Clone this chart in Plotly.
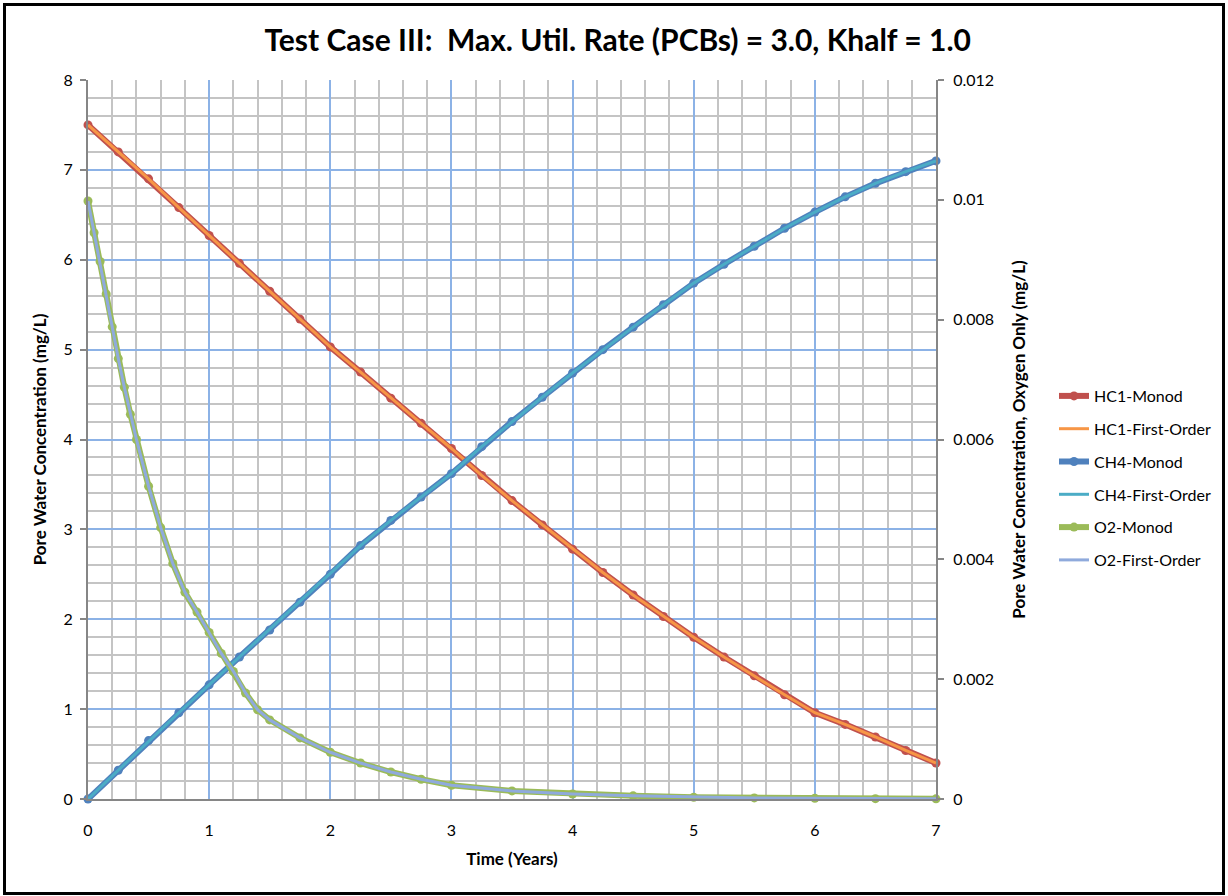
import plotly.graph_objects as go

# ---------------- data ----------------
t_main = [0, 0.25, 0.5, 0.75, 1.0, 1.25, 1.5, 1.75, 2.0, 2.25, 2.5, 2.75, 3.0, 3.25,
          3.5, 3.75, 4.0, 4.25, 4.5, 4.75, 5.0, 5.25, 5.5, 5.75, 6.0, 6.25, 6.5, 6.75, 7.0]

hc1_monod = [7.50, 7.20, 6.90, 6.58, 6.27, 5.96, 5.65, 5.34, 5.03, 4.75, 4.46, 4.18, 3.90, 3.60,
             3.32, 3.05, 2.78, 2.52, 2.27, 2.03, 1.80, 1.58, 1.37, 1.16, 0.96, 0.83, 0.69, 0.54, 0.40]
hc1_first = [7.50, 7.20, 6.90, 6.58, 6.27, 5.96, 5.65, 5.34, 5.03, 4.75, 4.46, 4.18, 3.90, 3.60,
             3.32, 3.05, 2.78, 2.52, 2.27, 2.03, 1.80, 1.58, 1.37, 1.16, 0.96, 0.83, 0.69, 0.54, 0.40]

ch4_monod = [0.00, 0.32, 0.65, 0.96, 1.27, 1.58, 1.88, 2.19, 2.50, 2.82, 3.10, 3.36, 3.62, 3.92,
             4.20, 4.47, 4.74, 5.00, 5.25, 5.50, 5.74, 5.95, 6.15, 6.35, 6.53, 6.70, 6.85, 6.98, 7.10]
ch4_first = [0.00, 0.32, 0.65, 0.96, 1.27, 1.58, 1.88, 2.19, 2.50, 2.82, 3.10, 3.36, 3.62, 3.92,
             4.20, 4.47, 4.74, 5.00, 5.25, 5.50, 5.74, 5.95, 6.15, 6.35, 6.53, 6.70, 6.85, 6.98, 7.10]

t_o2 = [0, 0.05, 0.1, 0.15, 0.2, 0.25, 0.3, 0.35, 0.4, 0.5, 0.6, 0.7, 0.8, 0.9, 1.0, 1.1, 1.2,
        1.3, 1.4, 1.5, 1.75, 2.0, 2.25, 2.5, 2.75, 3.0, 3.5, 4.0, 4.5, 5.0, 5.5, 6.0, 6.5, 7.0]
o2_monod = [0.00998, 0.00945, 0.00897, 0.00843, 0.00788, 0.00735, 0.00687, 0.00642, 0.00600,
            0.00522, 0.00453, 0.00393, 0.00345, 0.00312, 0.00278, 0.00243, 0.00213, 0.00177,
            0.00149, 0.00132, 0.00102, 0.00078, 0.00060, 0.00045, 0.00033, 0.00023, 0.000135,
            0.000083, 0.000053, 0.000030, 0.000018, 0.000012, 0.000006, 0.000003]
o2_first = [0.00998, 0.00945, 0.00897, 0.00843, 0.00788, 0.00735, 0.00687, 0.00642, 0.00600,
            0.00522, 0.00453, 0.00393, 0.00345, 0.00312, 0.00278, 0.00243, 0.00213, 0.00177,
            0.00149, 0.00132, 0.00102, 0.00078, 0.00060, 0.00045, 0.00033, 0.00023, 0.000135,
            0.000083, 0.000053, 0.000030, 0.000018, 0.000012, 0.000006, 0.000003]

left_ticks = [0, 1, 2, 3, 4, 5, 6, 7, 8]
right_ticks = [0, 0.002, 0.004, 0.006, 0.008, 0.01, 0.012]
right_tick_labels = ["0", "0.002", "0.004", "0.006", "0.008", "0.01", "0.012"]
x_ticks = [0, 1, 2, 3, 4, 5, 6, 7]

FONT = "Lato"

fig = go.Figure()

def monod(x, y, name, color, axis):
    fig.add_trace(go.Scatter(x=x, y=y, name=name, mode="lines+markers", yaxis=axis,
                             line=dict(color=color, width=6),
                             marker=dict(color=color, size=9),
                             cliponaxis=False, legendgroup=name))

def first(x, y, name, color, axis):
    fig.add_trace(go.Scatter(x=x, y=y, name=name, mode="lines", yaxis=axis,
                             line=dict(color=color, width=3),
                             cliponaxis=False, legendgroup=name))

monod(t_main, hc1_monod, "HC1-Monod", "#C0504D", "y")
first(t_main, hc1_first, "HC1-First-Order", "#F79646", "y")
monod(t_main, ch4_monod, "CH4-Monod", "#4F81BD", "y")
first(t_main, ch4_first, "CH4-First-Order", "#4BACC6", "y")
monod(t_o2, o2_monod, "O2-Monod", "#9BBB59", "y2")
first(t_o2, o2_first, "O2-First-Order", "#8FAADC", "y2")

fig.update_layout(
    width=1228, height=896, autosize=False,
    paper_bgcolor="white", plot_bgcolor="white",
    margin=dict(l=88, r=292, t=80, b=97),
    font=dict(family=FONT, size=16, color="#000000"),
    title=dict(text="<b>Test Case III:  Max. Util. Rate (PCBs) = 3.0, Khalf = 1.0</b>",
               x=0.503, xref="container", xanchor="center",
               y=1 - 40 / 896, yref="container", yanchor="middle",
               font=dict(family=FONT, size=30, color="#000000")),
    xaxis=dict(range=[0, 7], tickvals=x_ticks, showgrid=True, gridcolor="#8CB2E6", gridwidth=1.5,
               minor=dict(dtick=0.2, showgrid=True, gridcolor="#C4C4C4", gridwidth=1.6),
               showline=True, linecolor="#868686", linewidth=2, zeroline=False,
               ticks="", ticklabelstandoff=16,
               title=dict(text="<b>Time (Years)</b>", font=dict(size=17), standoff=15)),
    yaxis=dict(range=[0, 8], tickvals=left_ticks, showgrid=True, gridcolor="#8CB2E6", gridwidth=1.5,
               minor=dict(dtick=0.2, showgrid=True, gridcolor="#C4C4C4", gridwidth=1.6),
               showline=True, linecolor="#868686", linewidth=2, zeroline=False,
               ticks="outside", ticklen=6, tickcolor="#868686", tickwidth=1.5, ticklabelstandoff=4,
               title=dict(text="<b>Pore Water Concentration (mg/L)</b>", font=dict(size=17), standoff=13)),
    yaxis2=dict(range=[0, 0.012], tickvals=right_ticks, ticktext=right_tick_labels,
                overlaying="y", side="right", showgrid=False, zeroline=False,
                showline=True, linecolor="#868686", linewidth=2,
                ticks="outside", ticklen=6, tickcolor="#868686", tickwidth=1.5, ticklabelstandoff=6,
                title=dict(text="<b>Pore Water Concentration, Oxygen Only (mg/L)</b>",
                           font=dict(size=17), standoff=20)),
    legend=dict(x=(1054 - 88) / 848, xanchor="left", y=(799 - 379) / 719, yanchor="top",
                font=dict(family=FONT, size=16), tracegroupgap=9, bgcolor="rgba(0,0,0,0)"),
    shapes=[dict(type="rect", xref="paper", yref="paper",
                 x0=(4.5 - 88) / 848, x1=(1223.5 - 88) / 848,
                 y0=(799 - 893.5) / 719, y1=(799 - 4.5) / 719,
                 line=dict(color="#000000", width=3), layer="above")],
)

fig.write_html("out.html")
